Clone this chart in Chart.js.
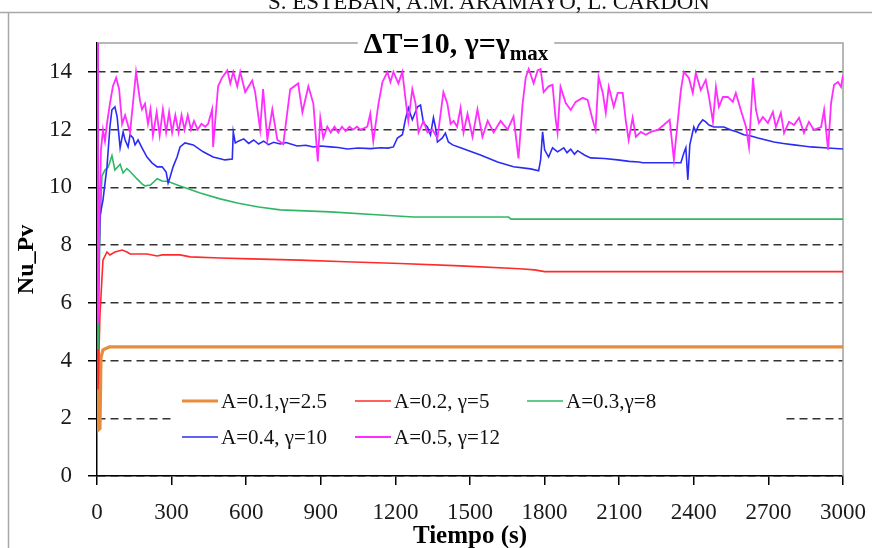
<!DOCTYPE html>
<html>
<head>
<meta charset="utf-8">
<script src="https://cdn.jsdelivr.net/npm/chart.js@4.4.1/dist/chart.umd.min.js"></script>
<style>
  body { margin: 0; background: #fff; }
  #wrap { position: relative; width: 872px; height: 548px; overflow: hidden; }
  #header { position: absolute; top: -10px; left: 268px; font: 23px "Liberation Serif", serif; line-height: 23px; white-space: nowrap; color: #111; }
  canvas { position: absolute; left: 0; top: 0; }
</style>
</head>
<body>
<div id="wrap">
  <canvas id="nuChart" width="872" height="548"></canvas>
  <div id="header">S. ESTEBAN, A.M. ARAMAYO, L. CARDON</div>
</div>
<script>
const FONT = '"Liberation Serif", "Times New Roman", serif';

const labels = ["A=0.1,\u03b3=2.5", "A=0.2, \u03b3=5", "A=0.3,\u03b3=8", "A=0.4, \u03b3=10", "A=0.5, \u03b3=12"];
const colors = ["#E98B3D", "#FF2B2B", "#2EB864", "#2B2BF5", "#FF2EFF"];

const xTicks = [0, 300, 600, 900, 1200, 1500, 1800, 2100, 2400, 2700, 3000];
const yTicks = [0, 2, 4, 6, 8, 10, 12, 14];

// A=0.1
const tOrange = [0, 6, 12, 16, 24, 50, 3000];
const vOrange = [16, 1.6, 1.65, 4.1, 4.37, 4.47, 4.47];

// A=0.2
const tRed = [0, 4, 12, 24, 40, 52, 72, 101, 121, 133, 201, 242, 262, 334, 375, 495, 620, 817, 1000, 1220, 1462, 1700, 1760, 1800, 3000];
const vRed = [16, 3.0, 5.6, 7.48, 7.76, 7.66, 7.76, 7.83, 7.76, 7.69, 7.69, 7.62, 7.66, 7.66, 7.59, 7.55, 7.52, 7.48, 7.42, 7.36, 7.28, 7.18, 7.14, 7.08, 7.08];

// A=0.3
const tGreen = [0, 4, 12, 20, 32, 45, 60, 72, 93, 105, 120, 133, 160, 181, 193, 215, 242, 262, 286, 334, 415, 495, 564, 650, 737, 938, 1140, 1272, 1542, 1655, 1665, 3000];
const vGreen = [16, 4.4, 8.6, 10.4, 10.6, 10.7, 11.1, 10.6, 10.8, 10.5, 10.65, 10.55, 10.3, 10.12, 10.05, 10.08, 10.3, 10.22, 10.2, 10.05, 9.8, 9.6, 9.46, 9.32, 9.22, 9.15, 9.04, 8.97, 8.97, 8.97, 8.9, 8.9];

// A=0.4
const tBlue = [0, 4, 12, 24, 40, 52, 60, 72, 81, 93, 105, 113, 125, 133, 145, 153, 165, 181, 201, 221, 242, 262, 278, 286, 294, 306, 322, 334, 354, 387, 427, 467, 515, 544, 548, 556, 568,
  590, 610, 630, 650, 670, 690, 710, 737, 760, 805, 840, 870, 900, 938, 970, 1007, 1050, 1100, 1140, 1170, 1192, 1208, 1228, 1240, 1252, 1268, 1289, 1301, 1313, 1329, 1341, 1353, 1361, 1369,
  1389, 1401, 1413, 1430, 1462, 1542, 1611, 1675, 1744, 1776, 1784, 1792, 1800, 1816, 1832, 1852, 1877, 1890, 1905, 1920, 1933, 1960, 1985, 2040, 2094, 2140, 2179, 2195, 2348, 2360, 2368,
  2376, 2384, 2400, 2408, 2420, 2436, 2448, 2461, 2481, 2521, 2549, 2575, 2601, 2630, 2658, 2690, 2722, 2760, 2803, 2840, 2871, 2924, 3000];
const vBlue = [16, 6.0, 9.0, 9.56, 10.7, 12.1, 12.68, 12.79, 12.44, 11.37, 11.92, 11.64, 11.4, 11.82, 11.71, 11.47, 11.64, 11.37, 11.05, 10.85, 10.71, 10.71, 10.53, 10.15, 10.36, 10.71, 11.05, 11.4, 11.54, 11.47, 11.23, 11.05, 10.95, 10.98, 11.92, 11.54, 11.6,
  11.68, 11.52, 11.64, 11.5, 11.6, 11.48, 11.56, 11.5, 11.55, 11.43, 11.46, 11.4, 11.43, 11.4, 11.38, 11.33, 11.36, 11.34, 11.37, 11.36, 11.4, 11.71, 11.82, 12.34, 12.75, 12.34, 12.79, 12.85, 12.23, 12.09, 11.82, 12.41, 12.09, 11.57,
  11.71, 11.88, 11.57, 11.47, 11.37, 11.12, 10.88, 10.71, 10.64, 10.57, 10.95, 11.92, 11.3, 11.05, 11.37, 11.23, 11.37, 11.2, 11.32, 11.15, 11.27, 11.12, 11.02, 11.0, 10.95, 10.9, 10.88, 10.85, 10.85, 11.19, 11.37,
  10.26, 11.47, 12.09, 11.92, 12.16, 12.34, 12.27, 12.16, 12.09, 12.09, 11.99, 11.92, 11.82, 11.78, 11.71, 11.64, 11.57, 11.52, 11.47, 11.43, 11.4, 11.37, 11.33];

// A=0.5
const tMagenta = [0, 4, 10, 16, 24, 32, 40, 52, 64, 77, 89, 101, 113, 133, 157, 173, 181, 193, 205, 215, 225, 240, 252, 265, 278, 290, 302, 315, 328, 340, 352, 365, 378, 390, 405, 420, 435, 447,
  463, 467, 487, 503, 524, 536, 548, 564, 576, 596, 624, 636, 656, 668, 685, 705, 725, 749, 777, 809, 826, 850, 870, 888, 898, 910, 926, 940, 955, 970, 985, 1000, 1015, 1030, 1045, 1060,
  1075, 1087, 1099, 1111, 1132, 1148, 1168, 1180, 1192, 1212, 1228, 1240, 1252, 1268, 1281, 1293, 1313, 1329, 1349, 1369, 1393, 1409, 1422, 1434, 1448, 1462, 1474, 1490, 1510, 1530, 1550,
  1571, 1595, 1623, 1651, 1675, 1695, 1711, 1724, 1736, 1756, 1772, 1784, 1796, 1816, 1832, 1844, 1852, 1864, 1885, 1905, 1925, 1953, 1973, 1993, 2005, 2017, 2034, 2046, 2058, 2078, 2094,
  2114, 2126, 2138, 2154, 2167, 2187, 2207, 2227, 2255, 2279, 2303, 2320, 2336, 2348, 2360, 2380, 2396, 2408, 2428, 2448, 2461, 2477, 2489, 2501, 2517, 2537, 2557, 2569, 2589, 2610, 2622,
  2638, 2650, 2662, 2678, 2698, 2718, 2730, 2750, 2763, 2783, 2803, 2823, 2843, 2863, 2883, 2912, 2924, 2940, 2952, 2964, 2980, 2992, 3000];
const vMagenta = [16, 5.3, 9.0, 11.3, 12.0, 11.6, 12.2, 12.9, 13.5, 13.8, 13.4, 12.2, 12.5, 11.9, 14.0, 13.0, 12.7, 12.9, 12.2, 12.7, 11.8, 12.6, 11.8, 12.7, 11.9, 12.6, 11.9, 12.5, 11.9, 12.5, 12.0, 12.5, 12.0, 12.3, 12.0, 12.2, 12.1, 12.2,
  12.7, 11.4, 13.5, 13.8, 14.05, 13.6, 14.0, 13.5, 14.0, 13.3, 13.7, 13.3, 12.0, 13.4, 11.65, 12.7, 11.65, 11.5, 13.4, 13.6, 12.6, 13.5, 12.9, 10.9, 12.4, 11.7, 12.1, 11.9, 12.1, 11.9, 12.1, 11.95, 12.1, 12.0, 12.1, 12.0,
  12.05, 12.1, 12.55, 11.6, 12.9, 13.65, 14.0, 13.65, 14.0, 13.6, 14.0, 13.1, 12.3, 13.4, 12.9, 11.9, 12.3, 11.9, 12.0, 11.7, 13.3, 12.9, 12.2, 12.3, 12.1, 12.75, 11.9, 12.55, 11.75, 12.7, 11.75,
  12.3, 11.9, 12.3, 12.0, 12.45, 11.0, 12.85, 13.8, 14.1, 13.6, 14.05, 14.1, 13.3, 13.5, 13.55, 12.4, 11.9, 13.48, 12.92, 12.68, 12.96, 13.1, 13.03, 12.34, 11.99, 13.83, 13.27, 12.58, 13.48, 12.79, 13.27,
  13.27, 12.34, 11.64, 12.41, 11.75, 11.92, 11.82, 11.92, 11.99, 12.16, 12.34, 10.95, 12.34, 13.37, 14.0, 13.79, 13.27, 13.96, 13.37, 13.72, 13.13, 12.27, 13.48, 12.79, 13.13, 13.13, 12.96, 13.27, 12.68, 12.09, 11.4,
  13.79, 12.68, 12.23, 12.44, 12.23, 12.61, 12.09, 12.58, 11.88, 12.27, 12.16, 12.41, 11.88, 12.27, 11.99, 12.09, 12.68, 11.3, 12.92, 13.55, 13.65, 13.48, 13.89];

const seriesT = [tOrange, tRed, tGreen, tBlue, tMagenta];
const seriesV = [vOrange, vRed, vGreen, vBlue, vMagenta];

function pairs(ts, vs) {
  return ts.map((t, i) => ({ x: t, y: vs[i] }));
}

const frame = {
  id: "frame",
  beforeDraw(chart) {
    const ctx = chart.ctx;
    ctx.save();
    ctx.fillStyle = "#fff";
    ctx.fillRect(0, 0, chart.width, chart.height);
    ctx.strokeStyle = "#a8a8a8";
    ctx.lineWidth = 1.5;
    ctx.beginPath();
    ctx.moveTo(0, 12.5);
    ctx.lineTo(chart.width, 12.5);
    ctx.moveTo(8.5, 12.5);
    ctx.lineTo(8.5, chart.height);
    ctx.stroke();
    ctx.restore();
  },
  beforeDatasetsDraw(chart) {
    const { ctx, chartArea: a } = chart;
    ctx.save();
    ctx.strokeStyle = "#a0a0a0";
    ctx.lineWidth = 1.5;
    ctx.beginPath();
    ctx.moveTo(a.left, a.top);
    ctx.lineTo(a.right, a.top);
    ctx.lineTo(a.right, a.bottom);
    ctx.stroke();
    ctx.restore();
  },
  afterDatasetsDraw(chart) {
    const ctx = chart.ctx;
    ctx.save();
    // legend box
    ctx.fillStyle = "#fff";
    ctx.fillRect(174, 382, 608, 74);
    const colX = [182, 355, 527];
    const rowY = [401, 437];
    ctx.font = "21px " + FONT;
    ctx.textBaseline = "middle";
    ctx.fillStyle = "#111";
    chart.data.datasets.forEach((ds, i) => {
      const x = colX[i % 3];
      const y = rowY[Math.floor(i / 3)];
      ctx.strokeStyle = ds.borderColor;
      ctx.lineWidth = ds.borderWidth;
      ctx.beginPath();
      ctx.moveTo(x, y);
      ctx.lineTo(x + 36, y);
      ctx.stroke();
      ctx.fillText(ds.label, x + 39, y + 1);
    });
    ctx.restore();
  },
  afterDraw(chart) {
    const ctx = chart.ctx;
    ctx.save();
    const main = "\u0394T=10, \u03b3=\u03b3";
    const sub = "max";
    ctx.font = "bold 30px " + FONT;
    const w1 = ctx.measureText(main).width;
    ctx.font = "bold 21px " + FONT;
    const w2 = ctx.measureText(sub).width;
    const x0 = 456 - (w1 + w2) / 2;
    ctx.fillStyle = "#fff";
    ctx.fillRect(x0 - 6, 30, w1 + w2 + 12, 28);
    ctx.fillStyle = "#000";
    ctx.textBaseline = "alphabetic";
    ctx.font = "bold 30px " + FONT;
    ctx.fillText(main, x0, 53);
    ctx.font = "bold 21px " + FONT;
    ctx.fillText(sub, x0 + w1, 60);
    ctx.restore();
  }
};

new Chart(document.getElementById("nuChart"), {
  type: "line",
  data: {
    datasets: seriesT.map((ts, i) => ({
      label: labels[i],
      data: pairs(ts, seriesV[i]),
      borderColor: colors[i],
      borderWidth: i === 0 ? 3.2 : (i === 4 ? 1.8 : 1.6),
      pointRadius: 0,
      tension: 0,
      order: 5 - i
    }))
  },
  options: {
    responsive: false,
    animation: false,
    devicePixelRatio: 1,
    layout: { padding: { left: 0, right: 29, top: 43, bottom: 0 } },
    plugins: { legend: { display: false }, title: { display: false }, tooltip: { enabled: false } },
    scales: {
      x: {
        type: "linear",
        min: 0,
        max: 3000,
        afterFit: (s) => { s.height = 72; },
        afterBuildTicks: (s) => { s.ticks = xTicks.map(v => ({ value: v })); },
        border: { color: "#000", width: 1.5 },
        grid: { drawOnChartArea: false, color: "#000", lineWidth: 1.5, tickLength: 9 },
        ticks: { font: { family: FONT, size: 23, lineHeight: 2.4 }, color: "#1a1a1a", padding: 0, maxRotation: 0, autoSkip: false, callback: (v) => String(v) },
        title: { display: true, text: "Tiempo (s)", color: "#000", font: { family: FONT, size: 25, weight: "bold", lineHeight: 0.9 }, padding: { top: 0, bottom: 0 } }
      },
      y: {
        min: 0,
        max: 15,
        afterFit: (s) => { s.width = 97; },
        afterBuildTicks: (s) => { s.ticks = yTicks.map(v => ({ value: v })); },
        border: { color: "#000", width: 1.5, dash: [8, 5] },
        grid: { color: "#333", lineWidth: 1.5, tickLength: 9, tickColor: "#000", tickBorderDash: [] },
        ticks: { font: { family: FONT, size: 23 }, color: "#1a1a1a", padding: 16, autoSkip: false, callback: (v) => String(v) },
        title: { display: true, text: "Nu_Pv", color: "#000", font: { family: FONT, size: 24, weight: "bold" }, padding: { top: 12, bottom: 0 } }
      }
    }
  },
  plugins: [frame]
});
</script>
</body>
</html>
